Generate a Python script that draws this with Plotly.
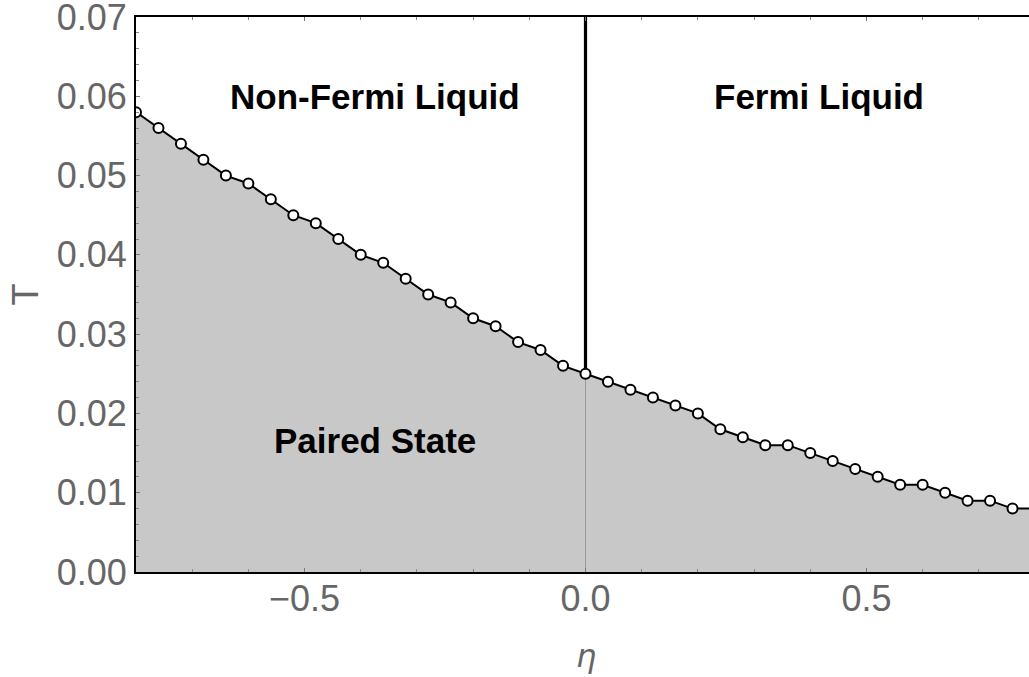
import plotly.graph_objects as go

# ---- data ----
eta = [round(-0.8 + 0.04 * i, 2) for i in range(41)]
T_c = [0.058, 0.056, 0.054, 0.052, 0.050, 0.049, 0.047, 0.045, 0.044,
       0.042, 0.040, 0.039, 0.037, 0.035, 0.034, 0.032, 0.031, 0.029,
       0.028, 0.026, 0.025,
       0.024, 0.023, 0.022, 0.021, 0.020, 0.018, 0.017, 0.016, 0.016,
       0.015, 0.014, 0.013, 0.012, 0.011, 0.011, 0.010, 0.009, 0.009,
       0.008, 0.008]

x_range = [-0.8, 0.8]
y_range = [0.0, 0.07]
x_tickvals = [-0.5, 0.0, 0.5]
x_ticktext = ["\u22120.5", "0.0", "0.5"]
y_tickvals = [0.00, 0.01, 0.02, 0.03, 0.04, 0.05, 0.06, 0.07]
y_ticktext = ["0.00", "0.01", "0.02", "0.03", "0.04", "0.05", "0.06", "0.07"]

region_labels = ["Non-Fermi Liquid", "Fermi Liquid", "Paired State"]
region_x = [-0.375, 0.415, -0.375]
region_y = [0.060, 0.060, 0.0166]

boundary_eta = 0.0
T_at_boundary = T_c[eta.index(boundary_eta)]

FONT = "Liberation Sans"
GRAY = "#666666"

fig = go.Figure()

# shaded paired-state region
fig.add_trace(go.Scatter(
    x=eta, y=T_c, mode="lines", fill="tozeroy",
    fillcolor="#c8c8c8", line=dict(width=0, color="#c8c8c8"),
    hoverinfo="skip", showlegend=False))

# thin gray line inside the shaded region at eta = 0
fig.add_trace(go.Scatter(
    x=[boundary_eta, boundary_eta], y=[y_range[0], T_at_boundary],
    mode="lines", line=dict(color="#999999", width=1),
    hoverinfo="skip", showlegend=False))

# thick black line separating NFL / FL
fig.add_trace(go.Scatter(
    x=[boundary_eta, boundary_eta], y=[T_at_boundary, y_range[1]],
    mode="lines", line=dict(color="black", width=3.2),
    hoverinfo="skip", showlegend=False))

# Tc curve with open markers
fig.add_trace(go.Scatter(
    x=eta, y=T_c, mode="lines+markers",
    line=dict(color="black", width=2),
    marker=dict(size=10, color="white", line=dict(color="black", width=2)),
    showlegend=False))

for txt, xv, yv in zip(region_labels, region_x, region_y):
    fig.add_annotation(x=xv, y=yv, text="<b>" + txt + "</b>", showarrow=False,
                       font=dict(family=FONT, size=35, color="black"),
                       xanchor="center", yanchor="middle")

# axis titles
fig.add_annotation(xref="paper", yref="paper", x=0, y=0.5, xshift=-111,
                   text="T", textangle=-90, showarrow=False,
                   font=dict(family=FONT, size=36, color=GRAY),
                   xanchor="center", yanchor="middle")
fig.add_annotation(xref="x", yref="paper", x=0, y=0, yshift=-63,
                   text="<i>\u03b7</i>", showarrow=False,
                   font=dict(family="DejaVu Sans", size=32, color=GRAY),
                   xanchor="center", yanchor="top")

fig.update_xaxes(
    range=x_range, tickvals=x_tickvals, ticktext=x_ticktext,
    ticks="inside", ticklen=4, tickwidth=1.2, tickcolor="#777777",
    showline=True, linecolor="black", linewidth=2, mirror="ticks",
    showgrid=False, zeroline=False, automargin=False,
    ticklabelstandoff=-6,
    tickfont=dict(family=FONT, size=36, color=GRAY),
    minor=dict(dtick=0.1, tick0=0, ticks="inside", ticklen=3,
               tickwidth=1, tickcolor="#888888", showgrid=False))
fig.update_yaxes(
    range=[y_range[0], y_range[1] * 1.00001], tickvals=y_tickvals, ticktext=y_ticktext,
    ticks="inside", ticklen=4, tickwidth=1.2, tickcolor="#777777",
    showline=True, linecolor="black", linewidth=2, mirror=False,
    showgrid=False, zeroline=False, automargin=False,
    ticklabeloverflow="allow",
    tickfont=dict(family=FONT, size=36, color=GRAY),
    minor=dict(dtick=0.002, tick0=0, ticks="inside", ticklen=3,
               tickwidth=1, tickcolor="#888888", showgrid=False))

fig.update_layout(
    width=1035, height=677,
    margin=dict(l=136, r=0, t=17, b=105, autoexpand=False),
    paper_bgcolor="white", plot_bgcolor="white",
    showlegend=False)

fig.write_html("out.html",
               config={"displayModeBar": False},
               post_script="document.body.style.margin='0';"
                           "document.body.style.overflow='hidden';")
